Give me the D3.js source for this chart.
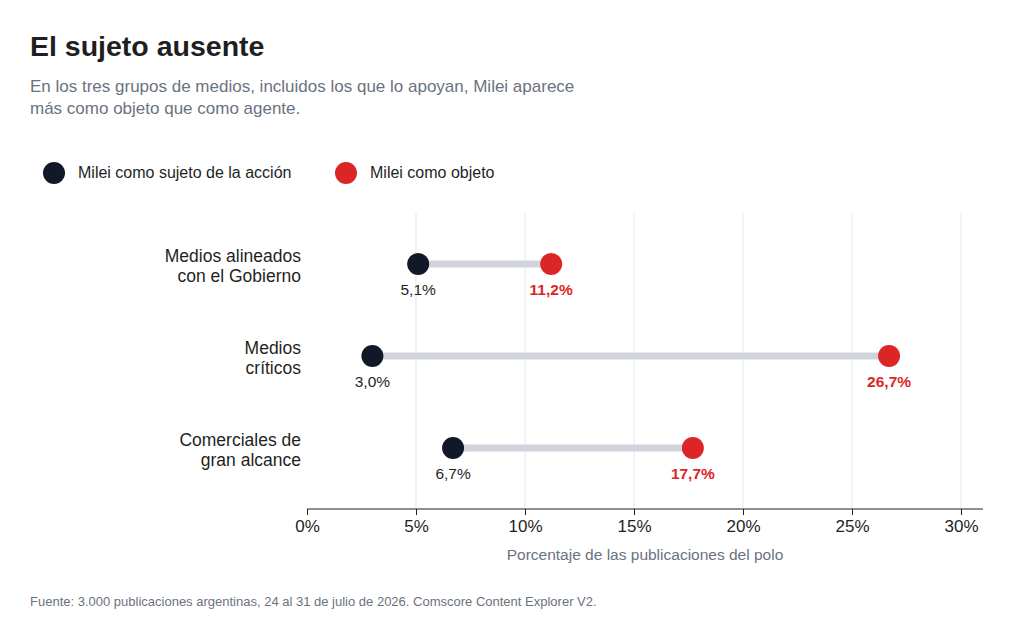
<!DOCTYPE html>
<html><head><meta charset="utf-8">
<script src="https://cdn.jsdelivr.net/npm/d3@7"></script>
<style>body{margin:0;background:#fff;font-family:"Liberation Sans",Arial,sans-serif}</style>
</head><body><svg id="c" width="1024" height="628"></svg>
<script>
const categories = [["Medios alineados","con el Gobierno"],["Medios","críticos"],["Comerciales de","gran alcance"]];
const sujeto = [5.1, 3.0, 6.7];
const objeto = [11.2, 26.7, 17.7];
const ticks = [0,5,10,15,20,25,30];
const dark = "#111827", red = "#dc2626", gray = "#6b7280";

const svg = d3.select("#c");
const x = d3.scaleLinear().domain([0,30]).range([307,961]);
const y = d3.scalePoint().domain(d3.range(3)).range([264,448]);
const fmt = v => d3.format(".1f")(v).replace(".", ",") + "%";

svg.append("text").attr("x",30).attr("y",56).attr("font-size",28.5).attr("font-weight","bold").attr("fill","#1f1f1f").text("El sujeto ausente");
["En los tres grupos de medios, incluidos los que lo apoyan, Milei aparece","más como objeto que como agente."].forEach((t,i)=>
  svg.append("text").attr("x",30).attr("y",92+i*22).attr("font-size",17).attr("fill",gray).text(t));

[[54,78,dark,"Milei como sujeto de la acción"],[346,370,red,"Milei como objeto"]].forEach(([cx,tx,c,t])=>{
  svg.append("circle").attr("cx",cx).attr("cy",173).attr("r",11).attr("fill",c);
  svg.append("text").attr("x",tx).attr("y",178).attr("font-size",16).attr("fill","#1f1f1f").text(t);
});

svg.selectAll(".grid").data(ticks.slice(1)).join("line").attr("x1",x).attr("x2",x)
  .attr("y1",213).attr("y2",509).attr("stroke","#e5e7eb");
const ax = svg.append("g").attr("transform","translate(0,509)")
  .call(d3.axisBottom(x).tickValues(ticks).tickFormat(d=>d+"%").tickSize(6).tickPadding(5));
ax.select(".domain").attr("d","M307,0H983").attr("stroke","#1f1f1f");
ax.selectAll(".tick line").attr("stroke","#1f1f1f");
ax.selectAll("text").attr("font-size",17).attr("fill","#1f1f1f").attr("font-family","Liberation Sans, Arial, sans-serif");
svg.append("text").attr("x",645).attr("y",560).attr("text-anchor","middle").attr("font-size",15.5).attr("fill",gray).text("Porcentaje de las publicaciones del polo");

categories.forEach((lines,i)=>{
  const cy = y(i);
  lines.forEach((t,j)=>svg.append("text").attr("x",301).attr("y",cy-2+j*20).attr("text-anchor","end")
    .attr("font-size",17.5).attr("fill","#1f1f1f").text(t));
  svg.append("line").attr("x1",x(sujeto[i])).attr("x2",x(objeto[i])).attr("y1",cy).attr("y2",cy)
    .attr("stroke","#d1d5db").attr("stroke-width",7);
  svg.append("circle").attr("cx",x(sujeto[i])).attr("cy",cy).attr("r",11).attr("fill",dark);
  svg.append("circle").attr("cx",x(objeto[i])).attr("cy",cy).attr("r",11).attr("fill",red);
  svg.append("text").attr("x",x(sujeto[i])).attr("y",cy+31).attr("text-anchor","middle").attr("font-size",15.5).attr("fill","#1f1f1f").text(fmt(sujeto[i]));
  svg.append("text").attr("x",x(objeto[i])).attr("y",cy+31).attr("text-anchor","middle").attr("font-size",15.5).attr("font-weight","bold").attr("fill",red).text(fmt(objeto[i]));
});

svg.append("text").attr("x",30).attr("y",606).attr("font-size",13).attr("fill",gray)
  .text("Fuente: 3.000 publicaciones argentinas, 24 al 31 de julio de 2026. Comscore Content Explorer V2.");
</script></body></html>
